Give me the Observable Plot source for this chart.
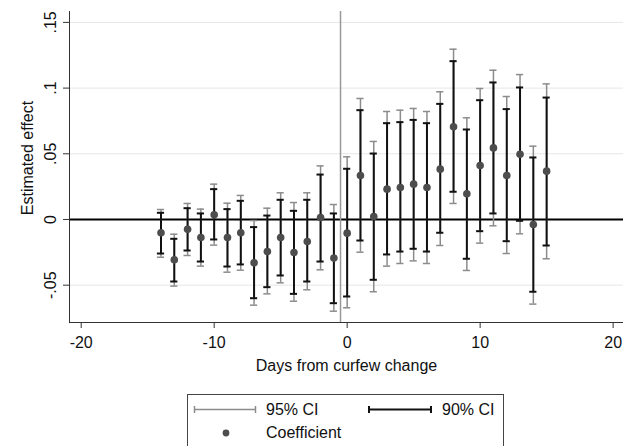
<!DOCTYPE html>
<html><head><meta charset="utf-8">
<script src="https://cdn.jsdelivr.net/npm/d3@7"></script>
<script src="https://cdn.jsdelivr.net/npm/@observablehq/plot@0.6"></script>
<style>
body{margin:0;background:#fff;font-family:"Liberation Sans",Arial,sans-serif;}
#wrap{position:relative;width:629px;height:446px;overflow:hidden;background:#fff;}
#legend{position:absolute;left:187px;top:394px;width:317px;height:70px;border:1px solid #444;box-sizing:border-box;font-size:16px;color:#111;background:#fff;}
#legend svg{position:absolute;left:0;top:0;}
.lt{position:absolute;line-height:18px;white-space:nowrap;}
</style></head><body>
<div id="wrap"><div id="chart"></div>
<div id="legend">
<svg width="315" height="68">
  <g stroke="#8c8c8c" stroke-width="1.5"><line x1="6" x2="68" y1="14.5" y2="14.5"/><line x1="6.5" x2="6.5" y1="11" y2="18"/><line x1="67.5" x2="67.5" y1="11" y2="18"/></g>
  <g stroke="#111" stroke-width="2"><line x1="180" x2="244" y1="14.5" y2="14.5"/><line x1="181" x2="181" y1="11" y2="18"/><line x1="243" x2="243" y1="11" y2="18"/></g>
  <circle cx="38" cy="38" r="3.4" fill="#4d4d4d"/>
</svg>
<span class="lt" style="left:78px;top:6px">95% CI</span>
<span class="lt" style="left:254px;top:6px">90% CI</span>
<span class="lt" style="left:78px;top:29px">Coefficient</span>
</div></div>
<script>
const days = [-14,-13,-12,-11,-10,-9,-8,-7,-6,-5,-4,-3,-2,-1,0,1,2,3,4,5,6,7,8,9,10,11,12,13,14,15];
const coef = [-0.0101,-0.0307,-0.0074,-0.0137,0.0036,-0.0137,-0.0101,-0.0330,-0.0244,-0.0137,-0.0251,-0.0167,0.0015,-0.0294,-0.0104,0.0335,0.0023,0.0231,0.0244,0.0269,0.0244,0.0383,0.0705,0.0195,0.0411,0.0545,0.0335,0.0497,-0.0038,0.0368];
const hi95 = [0.0076,-0.0112,0.0122,0.0079,0.0269,0.0124,0.0183,-0.0008,0.0086,0.0203,0.0129,0.0203,0.0408,0.0114,0.0477,0.0921,0.0594,0.0822,0.0832,0.0845,0.0822,0.0972,0.1296,0.0774,0.0997,0.1136,0.0936,0.1103,0.0558,0.1032];
const lo95 = [-0.0287,-0.0507,-0.0274,-0.0355,-0.0195,-0.0401,-0.0386,-0.0652,-0.0566,-0.0482,-0.0622,-0.0535,-0.0383,-0.0698,-0.0672,-0.0249,-0.0550,-0.0355,-0.0335,-0.0315,-0.0335,-0.0198,0.0122,-0.0388,-0.0180,-0.0048,-0.0259,-0.0109,-0.0644,-0.0299];
const hi90 = [0.0051,-0.0147,0.0086,0.0046,0.0231,0.0079,0.0142,-0.0058,0.0030,0.0150,0.0066,0.0150,0.0342,0.0046,0.0386,0.0832,0.0502,0.0733,0.0741,0.0758,0.0733,0.0880,0.1205,0.0685,0.0908,0.1043,0.0840,0.1005,0.0472,0.0928];
const lo90 = [-0.0259,-0.0472,-0.0236,-0.0320,-0.0152,-0.0358,-0.0342,-0.0599,-0.0515,-0.0426,-0.0566,-0.0472,-0.0320,-0.0637,-0.0586,-0.0160,-0.0459,-0.0266,-0.0244,-0.0223,-0.0244,-0.0101,0.0211,-0.0299,-0.0089,0.0046,-0.0165,-0.0010,-0.0550,-0.0198];
const xTicks = [-20,-10,0,10,20];
const yTicks = [-0.05,0,0.05,0.1,0.15];
const yTickLabels = ["-.05","0",".05",".1",".15"];
const gridTicks = [-0.05,0.05,0.1,0.15];
const eventLine = [-0.5];
const xDomain = [-20.88, 20.78];
const yDomain = [-0.0784, 0.1583];

const data = days.map((d,i) => ({day:d, coef:coef[i], hi95:hi95[i], lo95:lo95[i], hi90:hi90[i], lo90:lo90[i]}));
const cap = 0.27;
const gray = "#8c8c8c", dark = "#111";

const chart = Plot.plot({
  width: 629, height: 390,
  marginLeft: 69, marginRight: 6, marginTop: 11, marginBottom: 68,
  style: {fontFamily: '"Liberation Sans", Arial, sans-serif', fontSize: "16px", background: "#fff", color: "#111"},
  x: {domain: xDomain, axis: null},
  y: {domain: yDomain, axis: null},
  marks: [
    Plot.ruleY(gridTicks, {stroke: "#e6e6e6", strokeWidth: 1}),
    Plot.ruleY([0], {stroke: "#000", strokeWidth: 2}),
    Plot.ruleX(eventLine, {stroke: "#999", strokeWidth: 1.5}),
    Plot.ruleX(data, {x: "day", y1: "lo95", y2: "hi95", stroke: gray, strokeWidth: 1.5}),
    Plot.ruleY(data, {y: "lo95", x1: d => d.day - cap, x2: d => d.day + cap, stroke: gray, strokeWidth: 1.5}),
    Plot.ruleY(data, {y: "hi95", x1: d => d.day - cap, x2: d => d.day + cap, stroke: gray, strokeWidth: 1.5}),
    Plot.ruleX(data, {x: "day", y1: "lo90", y2: "hi90", stroke: dark, strokeWidth: 2}),
    Plot.ruleY(data, {y: "lo90", x1: d => d.day - cap, x2: d => d.day + cap, stroke: dark, strokeWidth: 2}),
    Plot.ruleY(data, {y: "hi90", x1: d => d.day - cap, x2: d => d.day + cap, stroke: dark, strokeWidth: 2}),
    Plot.dot(data, {x: "day", y: "coef", r: 3.8, fill: "#4d4d4d", stroke: null}),
    Plot.ruleX([xDomain[0]], {stroke: "#333", strokeWidth: 1}),
    Plot.ruleY([yDomain[0]], {stroke: "#333", strokeWidth: 1}),
    Plot.axisX({ticks: xTicks, tickSize: 6, tickPadding: 8, tickFormat: d => String(d), stroke: "#333", fill: "#111", label: null}),
    Plot.axisY({ticks: yTicks, tickSize: 6, tickPadding: 8, tickRotate: -90, textAnchor: "middle", lineAnchor: "bottom", tickFormat: d => yTickLabels[yTicks.indexOf(d)], stroke: "#333", fill: "#111", label: null}),
    Plot.text(["Days from curfew change"], {frameAnchor: "bottom", dy: 43, lineAnchor: "middle", textAnchor: "middle", fill: "#111"}),
    Plot.text(["Estimated effect"], {frameAnchor: "left", dx: -42, dy: -9, rotate: -90, lineAnchor: "middle", textAnchor: "middle", fill: "#111"})
  ]
});
document.getElementById("chart").appendChild(chart);
</script>
</body></html>
